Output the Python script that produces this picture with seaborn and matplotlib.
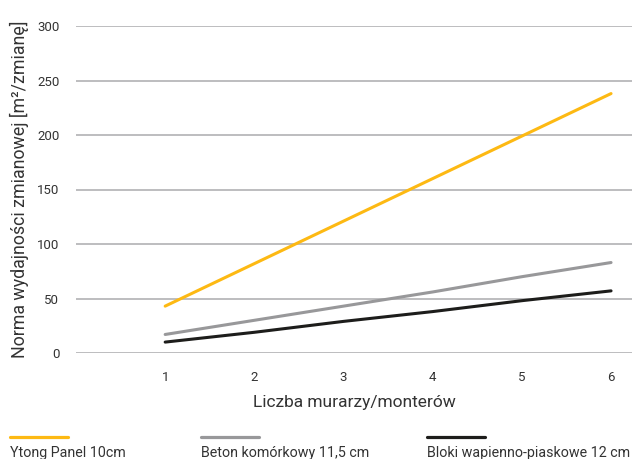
import matplotlib
matplotlib.use("Agg")
import matplotlib.pyplot as plt
import seaborn as sns
import pandas as pd
from matplotlib.lines import Line2D

workers = [1, 2, 3, 4, 5, 6]
ytong = [43, 82, 121, 160, 199, 238]
beton = [17, 30, 43, 56, 70, 83]
bloki = [10, 19, 29, 38, 48, 57]
series_names = ["Ytong Panel 10cm", "Beton komórkowy 11,5 cm", "Bloki wapienno-piaskowe 12 cm"]
colors = ["#FDB913", "#98989A", "#1D1D1B"]
yticks = [0, 50, 100, 150, 200, 250, 300]

rows = []
for name, vals in zip(series_names, [ytong, beton, bloki]):
    for x, v in zip(workers, vals):
        rows.append({"x": x, "y": v, "series": name})
df = pd.DataFrame(rows)

sns.set_style("white")
plt.rcParams['font.family'] = ['Roboto', 'DejaVu Sans']
txt = "#333333"

fig = plt.figure(figsize=(6.36, 4.59), dpi=100)
ax = fig.add_axes([76/636, 1 - 353/459, 556/636, 327/459])
sns.lineplot(data=df, x="x", y="y", hue="series", palette=colors, linewidth=2.2,
             ax=ax, legend=False)
ax.set_xlim(0, 6.235)
ax.set_ylim(0, 300)
ax.set_yticks(yticks)
ax.set_xticks(workers)
ax.yaxis.grid(True, color="#BDBDBF", linewidth=1.4)
ax.set_axisbelow(True)
for s in ax.spines.values():
    s.set_visible(False)
ax.tick_params(axis="y", length=0, pad=12, labelsize=9.5, labelcolor=txt)
ax.tick_params(axis="x", length=9, width=1, color="#555555", direction="out",
               pad=4, labelsize=9.5, labelcolor=txt)
ax.set_xlabel("Liczba murarzy/monterów", fontsize=12.5, color=txt, labelpad=8)
ax.set_ylabel("Norma wydajności zmianowej [m²/zmianę]", fontsize=12.8, color=txt)
ax.yaxis.set_label_coords(-0.085, 0.5)

leg_x = [10, 201, 427]
for lx, c, name in zip(leg_x, colors, series_names):
    fig.add_artist(Line2D([lx/636, (lx+58)/636], [1 - 437/459]*2, color=c, linewidth=2.3,
                          transform=fig.transFigure))
    fig.text(lx/636, 1 - 453/459, name, fontsize=10.3, color=txt, va="center", ha="left")

fig.savefig("out.png", dpi=100)
